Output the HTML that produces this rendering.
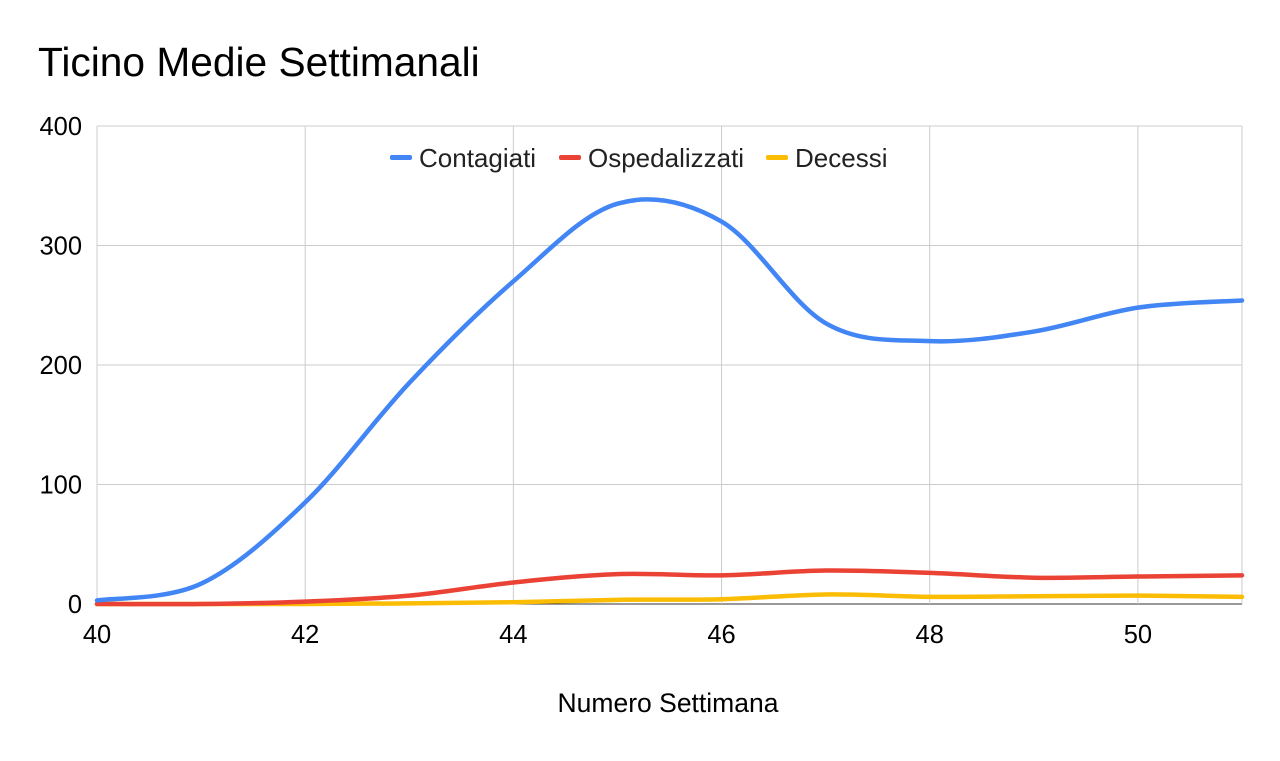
<!DOCTYPE html>
<html><head><meta charset="utf-8"><style>
body{margin:0;background:#fff;}
svg text{font-family:"Liberation Sans",Arial,sans-serif;}
</style></head><body>
<svg id="s" width="1280" height="756" xmlns="http://www.w3.org/2000/svg">
<rect width="1280" height="756" fill="#fff"/>
<text x="38" y="76" font-size="40.7" fill="#000">Ticino Medie Settimanali</text>
<g id="grid" stroke="#cccccc" stroke-width="1"></g>
<g id="lbl" font-size="25.5" fill="#000"></g>
<text x="668" y="712" font-size="26.5" text-anchor="middle" fill="#000">Numero Settimana</text>
<g font-size="26" fill="#222">
<rect x="390" y="155" width="22" height="5" rx="2" fill="#4285f4"/><text x="419" y="167">Contagiati</text>
<rect x="559" y="155" width="22" height="5" rx="2" fill="#ea4335"/><text x="588" y="167">Ospedalizzati</text>
<rect x="766" y="155" width="22" height="5" rx="2" fill="#fbbc04"/><text x="795" y="167">Decessi</text>
</g>
<g id="series" fill="none" stroke-width="4.5" stroke-linecap="round"></g>
</svg>
<script>
var NS="http://www.w3.org/2000/svg";
function X(w){return 97+(w-40)*104.09;}
function Y(v){return 604-v*1.195;}
function el(p,t,a,txt){var e=document.createElementNS(NS,t);for(var k in a)e.setAttribute(k,a[k]);if(txt!=null)e.textContent=txt;document.getElementById(p).appendChild(e);}
for(var v=0;v<=400;v+=100){el('grid','line',{x1:97,x2:1242,y1:Y(v),y2:Y(v),stroke:v==0?'#333':'#ccc'});el('lbl','text',{x:82,y:Y(v)+9,'text-anchor':'end'},v);}
for(var w=40;w<=50;w+=2){el('grid','line',{x1:X(w),x2:X(w),y1:126,y2:604});el('lbl','text',{x:X(w),y:643,'text-anchor':'middle'},w);}
el('grid','line',{x1:1242,x2:1242,y1:126,y2:604});
var data=[
["#fbbc04",[0,0,0,0.5,1.5,3.5,4,8,6,6.5,7,6]],
["#ea4335",[0,0,2,7,18,25,24,28,26,22,23,24]],
["#4285f4",[3,17,85,185,270,335,320,235,220,228,248,254]]];
data.forEach(function(d){
 var p=d[1].map(function(v,i){return[X(40+i),Y(v)];});
 var s="M"+p[0][0]+","+p[0][1];
 for(var i=0;i<p.length-1;i++){
  var p0=p[i-1]||p[i],p1=p[i],p2=p[i+1],p3=p[i+2]||p2;
  var c1=[p1[0]+(p2[0]-p0[0])/6,p1[1]+(p2[1]-p0[1])/6];
  var c2=[p2[0]-(p3[0]-p1[0])/6,p2[1]-(p3[1]-p1[1])/6];
  s+=" C"+c1+" "+c2+" "+p2;
 }
 el('series','path',{d:s,stroke:d[0]});
});
</script>
</body></html>
